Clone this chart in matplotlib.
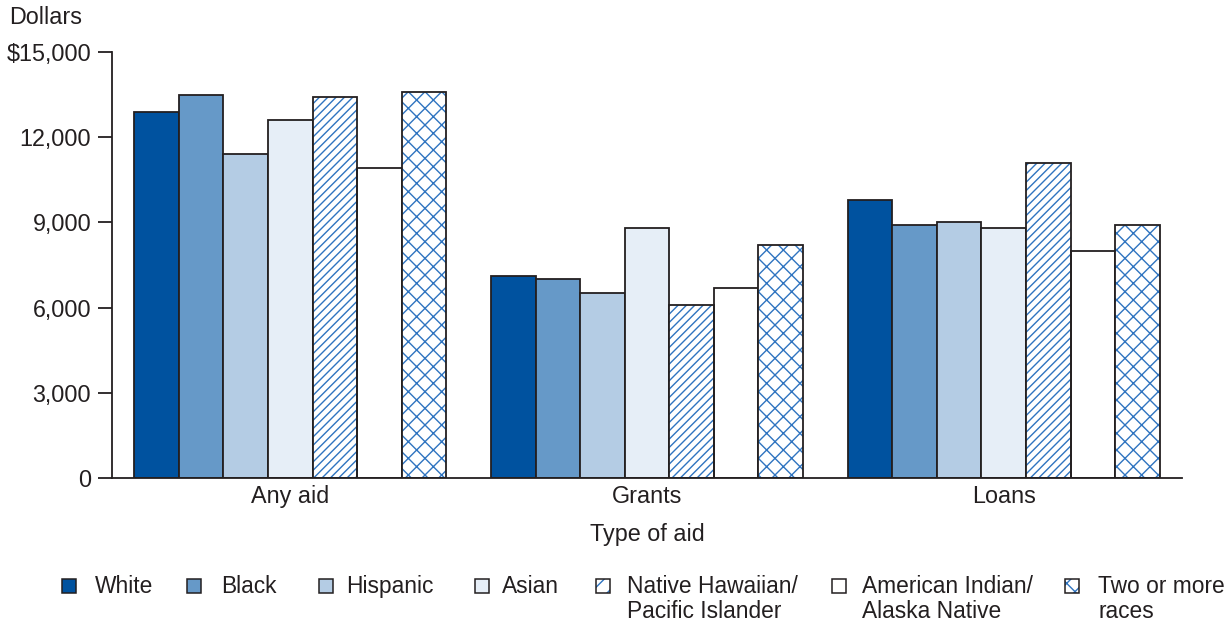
import numpy as np
import matplotlib as mpl
import matplotlib.pyplot as plt
from matplotlib.patches import Rectangle

mpl.rcParams["font.family"] = ["Liberation Sans", "DejaVu Sans"]
mpl.rcParams["hatch.linewidth"] = 1.0

aid_types = ["Any aid", "Grants", "Loans"]
groups = ["White", "Black", "Hispanic", "Asian",
          "Native Hawaiian/\nPacific Islander",
          "American Indian/\nAlaska Native", "Two or more\nraces"]
white = [12900, 7100, 9800]
black = [13500, 7000, 8900]
hispanic = [11400, 6500, 9000]
asian = [12600, 8800, 8800]
nhpi = [13400, 6100, 11100]
aian = [10900, 6700, 8000]
two_more = [13600, 8200, 8900]
series = [white, black, hispanic, asian, nhpi, aian, two_more]

y_ticks = [0, 3000, 6000, 9000, 12000, 15000]
y_tick_labels = ["0", "3,000", "6,000", "9,000", "12,000", "$15,000"]

# look of each series: fill, hatch (legend boxes are small, so sparser hatch there)
fills = ["#00529F", "#6699C8", "#B4CCE4", "#E6EEF7", "white", "white", "white"]
hatches = [None, None, None, None, "////", None, "xx"]
leg_hatches = [None, None, None, None, "//", None, "xx"]
hatch_clr = "#2F74C0"
edge_clr = "#231F20"
text_clr = "#231F20"
fs = 16.8
leg_fs = 16.4

W, H = 1232, 622
fig = plt.figure(figsize=(W / 100, H / 100), dpi=100)
ax = fig.add_axes([112 / W, 1 - 478 / H, 1070 / W, 426 / H])

x = np.arange(len(aid_types))
bw = 0.125
for i, vals in enumerate(series):
    pos = x + (i - 3) * bw
    if hatches[i]:
        ax.bar(pos, vals, bw, color=fills[i], edgecolor=hatch_clr,
               hatch=hatches[i], linewidth=0, zorder=2)
        ax.bar(pos, vals, bw, fill=False, edgecolor=edge_clr, linewidth=1.3, zorder=3)
    else:
        ax.bar(pos, vals, bw, color=fills[i], edgecolor=edge_clr, linewidth=1.3, zorder=2)

ax.set_xlim(-0.5, 2.5)
ax.set_ylim(0, 15000)
ax.set_yticks(y_ticks)
ax.set_yticklabels(y_tick_labels, fontsize=fs, color=text_clr)
ax.set_xticks(x)
ax.set_xticklabels(aid_types, fontsize=fs, color=text_clr)
ax.tick_params(axis="x", length=0, pad=5)
ax.tick_params(axis="y", length=10, width=1.3, color=edge_clr, pad=5)
for s in ["top", "right"]:
    ax.spines[s].set_visible(False)
for s in ["left", "bottom"]:
    ax.spines[s].set_linewidth(1.3)
    ax.spines[s].set_color(edge_clr)
ax.set_xlabel("Type of aid", fontsize=fs, color=text_clr, labelpad=11)

fig.text(9 / W, 1 - 18 / H, "Dollars", fontsize=fs, color=text_clr, va="center", ha="left")

# legend drawn by hand so the box lines up with the first text line
leg_box_x = [62, 187, 319, 475, 596, 832, 1065]
leg_text_x = [95, 221, 346, 502, 627, 862, 1098]
box = 14
for i, name in enumerate(groups):
    r = Rectangle((leg_box_x[i] / W, 1 - 593 / H), box / W, box / H,
                  transform=fig.transFigure, facecolor=fills[i],
                  edgecolor=hatch_clr if leg_hatches[i] else edge_clr,
                  hatch=leg_hatches[i], linewidth=0 if leg_hatches[i] else 1.1)
    fig.add_artist(r)
    if leg_hatches[i]:
        fig.add_artist(Rectangle((leg_box_x[i] / W, 1 - 593 / H), box / W, box / H,
                                 transform=fig.transFigure, fill=False,
                                 edgecolor=edge_clr, linewidth=1.1))
    fig.text(leg_text_x[i] / W, 1 - 575 / H, name, fontsize=leg_fs, color=text_clr,
             va="top", ha="left", linespacing=1.1)

fig.savefig("out.png", dpi=100)
